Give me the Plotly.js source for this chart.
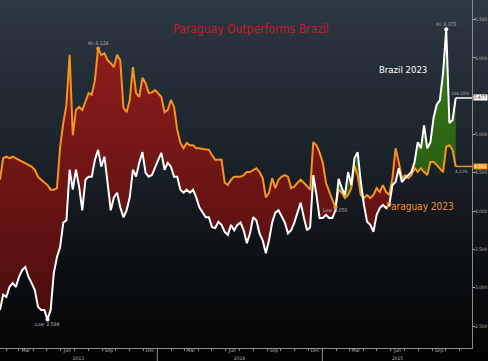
<!DOCTYPE html>
<html><head><meta charset="utf-8">
<script src="https://cdn.plot.ly/plotly-3.0.1.min.js"></script>
<style>
html,body{margin:0;padding:0;width:488px;height:361px;overflow:hidden;
background:linear-gradient(to bottom,#2c3843 0%,#1c242c 40%,#0b0e11 75%,#020303 100%);}
#chart{width:488px;height:361px;}
</style></head><body><div id="chart"></div>
<script>
const chartTitle = 'Paraguay Outperforms Brazil';
const seriesNames = ['Brazil 2023', 'Paraguay 2023'];
const brazilChange = '106.10%';
const paraguayChange = '4.22%';

const dates = [
'2013-01-18','2013-01-25','2013-02-01','2013-02-08','2013-02-15','2013-02-22','2013-03-01','2013-03-08','2013-03-15','2013-03-22',
'2013-03-29','2013-04-05','2013-04-12','2013-04-19','2013-04-26','2013-05-03','2013-05-10','2013-05-17','2013-05-24','2013-05-31',
'2013-06-07','2013-06-14','2013-06-21','2013-06-28','2013-07-05','2013-07-12','2013-07-19','2013-07-26','2013-08-02','2013-08-09',
'2013-08-16','2013-08-23','2013-08-30','2013-09-06','2013-09-13','2013-09-20','2013-09-27','2013-10-04','2013-10-11','2013-10-18',
'2013-10-25','2013-11-01','2013-11-08','2013-11-15','2013-11-22','2013-11-29','2013-12-06','2013-12-13','2013-12-20','2013-12-27',
'2014-01-03','2014-01-10','2014-01-17','2014-01-24','2014-01-31','2014-02-07','2014-02-14','2014-02-21','2014-02-28','2014-03-07',
'2014-03-14','2014-03-21','2014-03-28','2014-04-04','2014-04-11','2014-04-18','2014-04-25','2014-05-02','2014-05-09','2014-05-16',
'2014-05-23','2014-05-30','2014-06-06','2014-06-13','2014-06-20','2014-06-27','2014-07-04','2014-07-11','2014-07-18','2014-07-25',
'2014-08-01','2014-08-08','2014-08-15','2014-08-22','2014-08-29','2014-09-05','2014-09-12','2014-09-19','2014-09-26','2014-10-03',
'2014-10-10','2014-10-17','2014-10-24','2014-10-31','2014-11-07','2014-11-14','2014-11-21','2014-11-28','2014-12-05','2014-12-12',
'2014-12-19','2014-12-26','2015-01-02','2015-01-09','2015-01-16','2015-01-23','2015-01-30','2015-02-06','2015-02-13','2015-02-20',
'2015-02-27','2015-03-06','2015-03-13','2015-03-20','2015-03-27','2015-04-03','2015-04-10','2015-04-17','2015-04-24','2015-05-01',
'2015-05-08','2015-05-15','2015-05-22','2015-05-29','2015-06-05','2015-06-12','2015-06-19','2015-06-26','2015-07-03','2015-07-10',
'2015-07-17','2015-07-24','2015-07-31','2015-08-07','2015-08-14','2015-08-21','2015-08-28','2015-09-04','2015-09-11','2015-09-18',
'2015-09-25','2015-10-02','2015-10-09','2015-10-16','2015-10-23'];

const paraguay = [
4.41,4.69,4.71,4.69,4.71,4.69,4.67,4.64,4.63,4.60,
4.58,4.54,4.45,4.41,4.38,4.34,4.28,4.28,4.30,4.84,
5.15,5.39,6.04,4.99,5.32,5.36,5.32,5.42,5.54,5.52,
5.71,6.124,6.04,6.06,5.97,5.93,5.88,6.04,5.97,5.35,
5.29,5.45,5.88,5.54,5.49,5.74,5.67,5.54,5.55,5.58,
5.54,5.49,5.29,5.32,5.45,5.36,5.06,4.89,4.82,4.89,
4.86,4.86,4.82,4.82,4.81,4.80,4.80,4.73,4.67,4.67,
4.67,4.37,4.34,4.41,4.45,4.45,4.45,4.47,4.51,4.51,
4.54,4.56,4.51,4.43,4.18,4.24,4.43,4.30,4.41,4.45,
4.47,4.45,4.30,4.32,4.37,4.41,4.37,4.32,4.28,4.90,
4.86,4.76,4.63,4.37,4.25,4.15,4.05,4.28,4.24,4.17,
4.21,4.30,4.59,4.47,4.21,4.17,4.21,4.17,4.21,4.30,
4.25,4.34,4.25,4.21,4.43,4.82,4.64,4.43,4.47,4.43,
4.47,4.56,4.51,4.56,4.51,4.47,4.64,4.64,4.60,4.56,
4.51,4.84,4.86,4.80,4.583];

const brazil = [
2.71,2.91,2.88,3.01,3.06,3.01,3.14,3.23,3.27,3.14,
3.06,2.97,2.75,2.71,2.71,2.584,2.71,3.19,3.40,3.53,
3.85,3.88,4.54,4.28,4.54,4.32,4.01,4.41,4.45,4.45,
4.67,4.80,4.58,4.71,4.37,4.01,4.18,4.24,4.05,3.92,
4.01,4.18,4.54,4.45,4.63,4.77,4.50,4.45,4.47,4.58,
4.67,4.76,4.54,4.63,4.58,4.45,4.45,4.28,4.24,4.28,
4.24,4.28,4.18,4.05,3.98,3.92,3.92,3.79,3.78,3.86,
3.82,3.73,3.69,3.82,3.75,3.82,3.85,3.75,3.58,3.71,
3.92,3.88,3.71,3.62,3.45,3.62,3.85,3.98,4.01,3.92,
3.85,3.71,3.75,3.85,3.98,4.11,3.92,3.75,3.79,4.47,
4.21,3.91,3.91,3.95,3.91,3.91,4.01,4.42,4.30,4.21,
4.51,4.34,4.69,4.77,4.38,4.08,3.86,3.82,3.73,3.95,
4.04,4.08,4.04,4.08,4.34,4.38,4.56,4.38,4.43,4.47,
4.51,4.64,4.90,4.82,5.12,4.82,4.90,5.22,5.39,5.45,
5.80,6.373,5.15,5.19,5.477];

const yearLabels = ['2013', '2014', '2015'];
const yearLabelDates = ['2013-07-10', '2014-07-02', '2015-06-16'];
const yearBreaks = ['2014-01-01', '2015-01-01'];
const xRange = ['2013-01-18', '2015-11-28'];
const yRange = [2.213, 6.756];

const FONT = '"Liberation Sans Narrow","Arial Narrow","DejaVu Sans Condensed",sans-serif';
const ORANGE = '#f7941d';
const WHITE = '#ffffff';
const GREY = '#b4b4b4';

const n = dates.length;
const upper = brazil.map((v, i) => Math.max(v, paraguay[i]));
const argmax = a => a.indexOf(Math.max(...a));
const argmin = a => a.indexOf(Math.min(...a));
const pHi = argmax(paraguay), pLo = argmin(paraguay);
const bHi = argmax(brazil), bLo = argmin(brazil);

const base = {x: dates, type: 'scatter', mode: 'lines', hoverinfo: 'skip', showlegend: false};
const traces = [
  {...base, y: brazil, line: {width: 0}},
  {...base, y: upper, fill: 'tonexty', fillcolor: '#7a1818',
   fillgradient: {type: 'vertical', start: 2.6, stop: 6.1, colorscale: [[0, '#4a0c0c'], [1, '#8e1d1d']]},
   line: {width: 0}},
  {...base, y: paraguay, line: {width: 0}},
  {...base, y: upper, fill: 'tonexty', fillcolor: '#2f6b14',
   fillgradient: {type: 'vertical', start: 4.2, stop: 6.3, colorscale: [[0, '#255a10'], [1, '#3c7d1a']]},
   line: {width: 0}},
  {...base, y: paraguay, line: {color: ORANGE, width: 2}},
  {...base, y: brazil, line: {color: WHITE, width: 2}},
  {x: [dates[pHi], dates[pLo]], y: [paraguay[pHi], paraguay[pLo]], type: 'scatter', mode: 'markers',
   marker: {color: ORANGE, size: 4}, hoverinfo: 'skip', showlegend: false},
  {x: [dates[bHi], dates[bLo]], y: [brazil[bHi], brazil[bLo]], type: 'scatter', mode: 'markers',
   marker: {color: WHITE, size: 4}, hoverinfo: 'skip', showlegend: false}
];

const small = {family: FONT, size: 5, color: GREY};
const annotations = [
  {x: dates[pHi], y: paraguay[pHi], text: 'Hi: ' + paraguay[pHi].toFixed(3), showarrow: false, yshift: 5, font: small},
  {x: dates[pLo], y: paraguay[pLo], text: 'Low: ' + paraguay[pLo].toFixed(3), showarrow: false, yshift: -3, font: small},
  {x: dates[bHi], y: brazil[bHi], text: 'Hi: ' + brazil[bHi].toFixed(3), showarrow: false, yshift: 5, font: small},
  {x: dates[bLo], y: brazil[bLo], text: 'Low: ' + brazil[bLo].toFixed(3), showarrow: false, yshift: -4, font: small},
  {xref: 'paper', yref: 'paper', x: 403 / 472, xanchor: 'center', y: 1 - 69 / 348, yanchor: 'middle',
   text: seriesNames[0], showarrow: false, font: {family: FONT, size: 9.5, color: WHITE}},
  {xref: 'paper', yref: 'paper', x: 419.5 / 472, xanchor: 'center', y: 1 - 206 / 348, yanchor: 'middle',
   text: seriesNames[1], showarrow: false, font: {family: FONT, size: 10, color: ORANGE}},
  {xref: 'paper', x: 1, xanchor: 'right', xshift: -1, y: brazil[n - 1], yshift: 4, text: brazilChange,
   showarrow: false, font: {family: FONT, size: 4.5, color: GREY}},
  {xref: 'paper', x: 1, xanchor: 'right', xshift: -2, y: paraguay[n - 1], yshift: -5, text: paraguayChange,
   showarrow: false, font: {family: FONT, size: 4.5, color: GREY}},
  {xref: 'paper', x: 1, xanchor: 'left', xshift: 1, y: brazil[n - 1], text: brazil[n - 1].toFixed(3),
   showarrow: false, bgcolor: WHITE, borderpad: 0, font: {family: FONT, size: 4.8, color: '#222'}},
  {xref: 'paper', x: 1, xanchor: 'left', xshift: 1, y: paraguay[n - 1], text: paraguay[n - 1].toFixed(3),
   showarrow: false, bgcolor: ORANGE, borderpad: 0, font: {family: FONT, size: 4.8, color: '#fff'}}
];
yearLabels.forEach((t, i) => annotations.push({
  x: yearLabelDates[i], yref: 'paper', y: 0, yanchor: 'top', yshift: -6, text: t, showarrow: false,
  font: {family: FONT, size: 4.8, color: GREY}}));

const shapes = [
  {type: 'line', xref: 'x', yref: 'y', x0: dates[n - 1], x1: xRange[1], y0: brazil[n - 1], y1: brazil[n - 1],
   line: {color: WHITE, width: 1.5}},
  {type: 'line', xref: 'x', yref: 'y', x0: dates[n - 1], x1: xRange[1], y0: paraguay[n - 1], y1: paraguay[n - 1],
   line: {color: ORANGE, width: 1.5}}
];
yearBreaks.forEach(d => shapes.push({type: 'line', xref: 'x', yref: 'paper', x0: d, x1: d, y0: 0, y1: -13 / 348,
  line: {color: '#8c8c8c', width: 1}}));

const layout = {
  width: 488, height: 361,
  margin: {l: 0, r: 16, t: 0, b: 13, pad: 0},
  paper_bgcolor: 'rgba(0,0,0,0)', plot_bgcolor: 'rgba(0,0,0,0)',
  showlegend: false,
  font: {family: FONT, size: 6, color: GREY},
  title: {text: chartTitle, xref: 'container', x: 251 / 488, xanchor: 'center', yref: 'container',
    y: 1 - 29 / 361, yanchor: 'middle', font: {family: FONT, size: 12, color: '#c8192a'}},
  xaxis: {type: 'date', range: xRange, showgrid: false, zeroline: false, showline: true,
    linecolor: '#8c8c8c', linewidth: 1, tick0: '2013-03-16', dtick: 'M3', tickformat: '%b',
    ticks: '', ticklabelstandoff: -3, tickfont: {family: FONT, size: 5, color: GREY},
    minor: {tick0: '2013-01-01', dtick: 'M1', ticks: 'outside', ticklen: 2, tickcolor: '#8c8c8c', showgrid: false},
    fixedrange: true},
  yaxis: {side: 'right', range: yRange, showgrid: false, zeroline: false, showline: true,
    linecolor: '#8c8c8c', linewidth: 1, tick0: 2.5, dtick: 0.5, tickformat: '.3f', ticks: 'outside',
    ticklen: 2, tickcolor: GREY, ticklabelstandoff: -1, tickfont: {family: FONT, size: 4.8, color: GREY},
    automargin: false, fixedrange: true},
  shapes: shapes,
  annotations: annotations
};

Plotly.newPlot('chart', traces, layout, {displayModeBar: false, staticPlot: true});
</script></body></html>
